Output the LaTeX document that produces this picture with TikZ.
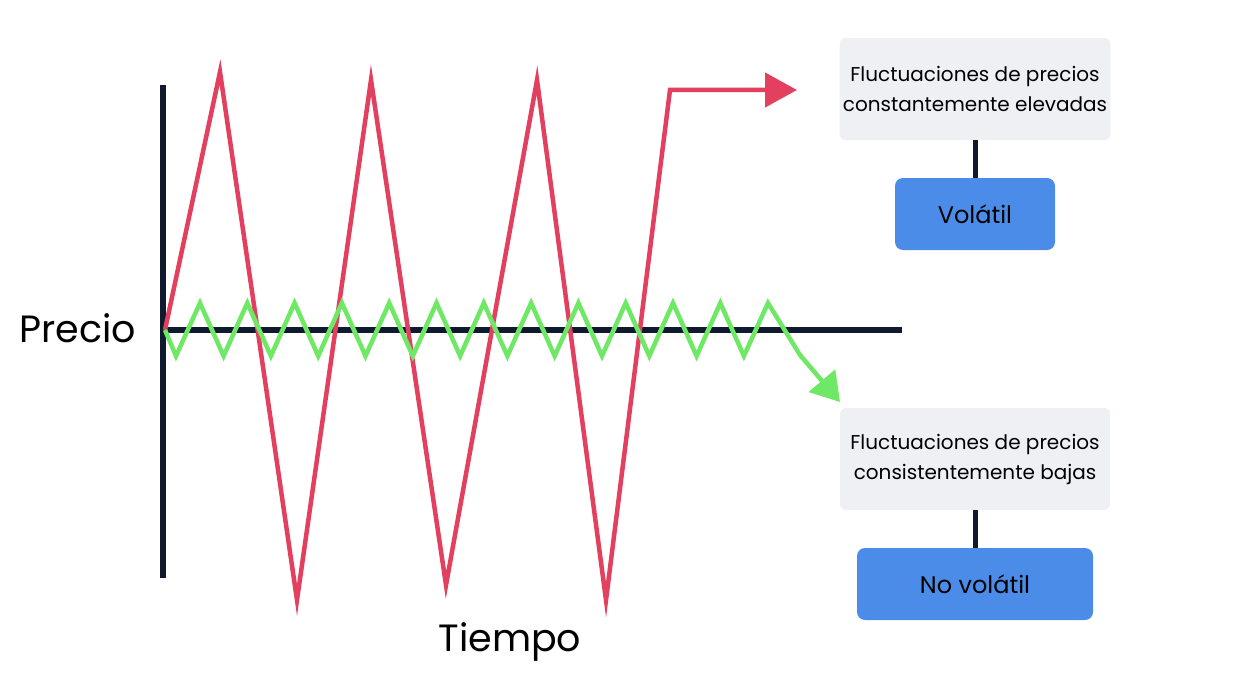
\documentclass[tikz,border=0pt]{standalone}
\usepackage{fontspec}
\setmainfont{Poppins}
\usetikzlibrary{arrows.meta}
\definecolor{navy}{HTML}{0F1A2E}
\definecolor{rd}{HTML}{E2405E}
\definecolor{gr}{HTML}{6FE866}
\definecolor{gy}{HTML}{EEF0F4}
\definecolor{bl}{HTML}{4A8CE8}
\begin{document}
\begin{tikzpicture}[x=1pt,y=-1pt,
  ax/.style={navy,line width=5.5pt},
  gbox/.style={fill=gy,rounded corners=6pt,minimum width=270pt,minimum height=102pt,align=center,font=\fontsize{20}{30}\selectfont},
  bbox/.style={fill=bl,rounded corners=8pt,minimum height=72pt,font=\fontsize{24}{26}\selectfont},
  lab/.style={font=\fontsize{38}{40}\selectfont}]
\useasboundingbox (0,0) rectangle (1236,690);
\draw[ax] (163,85) -- (163,578);
\draw[ax] (163,330) -- (902,330);
\node[lab] (p) at (78,328) {Precio};
\node[lab] (t) at (510,642) {Tiempo};
\coordinate (ra) at (797,90);
\draw[rd,line width=4.5pt,line join=miter,-{Triangle[length=32pt,width=34pt]}]
 (165,330) -- (220,72) -- (297,600) -- (371,80) -- (446,585) -- (537,80) -- (606,600) -- (670,90) -- (ra);
\coordinate (ga) at (840,402);
\draw[gr,line width=4.5pt,-{Triangle[length=28pt,width=34pt]}]
 (165,330) -- (176,356)
 \foreach \i in {0,...,11}{ -- ({200+47.3*\i},303) -- ({223.6+47.3*\i},356)}
 -- (768,303) -- (800,355) -- (ga);
\node[gbox] (g1) at (975,89) {Fluctuaciones de precios\\constantemente elevadas};
\node[bbox,minimum width=160pt] (b1) at (975,214) {Volátil};
\node[gbox] (g2) at (975,459) {Fluctuaciones de precios\\consistentemente bajas};
\node[bbox,minimum width=236pt] (b2) at (975,584) {No volátil};
\draw[navy,line width=5pt] (g1) -- (b1);
\draw[navy,line width=5pt] (g2) -- (b2);
\end{tikzpicture}
\end{document}
